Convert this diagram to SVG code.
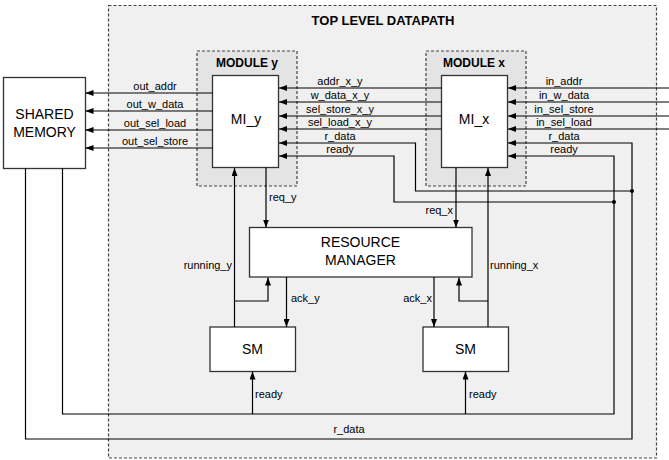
<svg xmlns="http://www.w3.org/2000/svg" width="669" height="460" viewBox="0 0 669 460">
<defs>
<marker id="arr" viewBox="0 0 8 6" refX="8" refY="3" markerWidth="8" markerHeight="6" orient="auto" markerUnits="userSpaceOnUse"><path d="M0,0 L8,3 L0,6 z" fill="#000"/></marker>
<style>
.box{fill:#fff;stroke:#333;stroke-width:1.3}
.dash{stroke:#444;stroke-width:1.2;stroke-dasharray:3,2}
.ttl{font-family:"Liberation Sans",Arial,sans-serif;font-weight:bold;text-anchor:middle;fill:#000}
.nt{font-family:"Liberation Sans",Arial,sans-serif;font-size:14px;text-anchor:middle;fill:#000}
.w{fill:none;stroke:#000;stroke-width:1.2}
.a{marker-end:url(#arr)}
.lb{font-family:"Liberation Sans",Arial,sans-serif;font-size:11px;fill:#000}
.m{text-anchor:middle}
.e{text-anchor:end}
</style>
</defs>
<g id="top-datapath">
<rect x="108.5" y="5.5" width="548" height="452.5" fill="#f0f0f0" class="dash"/>
<text x="383" y="25" class="ttl" font-size="13">TOP LEVEL DATAPATH</text>
</g>
<g id="shared-memory">
<rect x="3.5" y="77.5" width="82" height="91" class="box"/>
<text x="44.5" y="119" class="nt">SHARED</text>
<text x="44.5" y="137" class="nt">MEMORY</text>
</g>
<g id="module-y">
<rect x="197" y="51" width="100" height="135" fill="#e4e4e4" class="dash"/>
<text x="247" y="66.5" class="ttl" font-size="12">MODULE y</text>
</g>
<g id="mi-y">
<rect x="212.5" y="75.5" width="66" height="92" class="box"/>
<text x="246" y="124" class="nt">MI_y</text>
</g>
<g id="module-x">
<rect x="426" y="51" width="100" height="135" fill="#e4e4e4" class="dash"/>
<text x="474" y="66.5" class="ttl" font-size="12">MODULE x</text>
</g>
<g id="mi-x">
<rect x="441.5" y="75.5" width="66" height="92" class="box"/>
<text x="474" y="124" class="nt">MI_x</text>
</g>
<g id="resource-manager">
<rect x="249.5" y="227.5" width="222.5" height="49.5" class="box"/>
<text x="360.5" y="246.5" class="nt">RESOURCE</text>
<text x="360.5" y="265" class="nt">MANAGER</text>
</g>
<g id="sm-y">
<rect x="210" y="327" width="85.5" height="44.5" class="box"/>
<text x="252.5" y="354" class="nt">SM</text>
</g>
<g id="sm-x">
<rect x="423" y="327" width="85.5" height="44.5" class="box"/>
<text x="465.5" y="354" class="nt">SM</text>
</g>
<g id="connectors">
<path class="w a" d="M212.5,93 H85.5"/>
<path class="w a" d="M212.5,111 H85.5"/>
<path class="w a" d="M212.5,130 H85.5"/>
<path class="w a" d="M212.5,148 H85.5"/>
<text class="lb m" x="155" y="89.5">out_addr</text>
<text class="lb m" x="155" y="107.5">out_w_data</text>
<text class="lb m" x="155" y="126.5">out_sel_load</text>
<text class="lb m" x="155" y="144.5">out_sel_store</text>

<path class="w a" d="M441.5,88 H279"/>
<path class="w a" d="M441.5,102 H279"/>
<path class="w a" d="M441.5,116 H279"/>
<path class="w a" d="M441.5,129 H279"/>
<path class="w a" d="M632,191 H415.5 V143 H279"/>
<path class="w a" d="M614,202 H394 V156 H279"/>
<text class="lb m" x="340" y="84.5">addr_x_y</text>
<text class="lb m" x="340" y="98.5">w_data_x_y</text>
<text class="lb m" x="340" y="112.5">sel_store_x_y</text>
<text class="lb m" x="340" y="125.5">sel_load_x_y</text>
<text class="lb m" x="340" y="139.5">r_data</text>
<text class="lb m" x="340" y="152.5">ready</text>

<path class="w a" d="M669,88 H508"/>
<path class="w a" d="M669,102 H508"/>
<path class="w a" d="M669,116 H508"/>
<path class="w a" d="M669,129 H508"/>
<path class="w a" d="M25.5,168.5 V439 H632 V143 H508"/>
<path class="w a" d="M62.5,168.5 V414 H614 V156 H508"/>
<text class="lb m" x="564" y="84.5">in_addr</text>
<text class="lb m" x="564" y="98.5">in_w_data</text>
<text class="lb m" x="564" y="112.5">in_sel_store</text>
<text class="lb m" x="564" y="125.5">in_sel_load</text>
<text class="lb m" x="564" y="139.5">r_data</text>
<text class="lb m" x="564" y="152.5">ready</text>
<circle cx="632" cy="191" r="2"/>
<circle cx="614" cy="202" r="2"/>
<text class="lb m" x="349" y="433">r_data</text>

<path class="w a" d="M252.5,414 V371.5"/>
<path class="w a" d="M465.5,414 V371.5"/>
<text class="lb" x="255" y="398">ready</text>
<text class="lb" x="469" y="398">ready</text>

<path class="w a" d="M266,167.5 V227.5"/>
<text class="lb" x="269" y="201">req_y</text>
<path class="w a" d="M456,167.5 V227.5"/>
<text class="lb e" x="453" y="214">req_x</text>

<path class="w a" d="M234.5,327 V168"/>
<path class="w a" d="M234.5,301 H268 V277.5"/>
<text class="lb e" x="232" y="269">running_y</text>
<path class="w a" d="M488,327 V168"/>
<path class="w a" d="M488,301 H459 V277.5"/>
<text class="lb" x="490" y="269">running_x</text>

<path class="w a" d="M286.5,277 V327"/>
<text class="lb" x="291" y="302">ack_y</text>
<path class="w a" d="M434,277 V327"/>
<text class="lb e" x="432" y="302">ack_x</text>
</g>
</svg>
